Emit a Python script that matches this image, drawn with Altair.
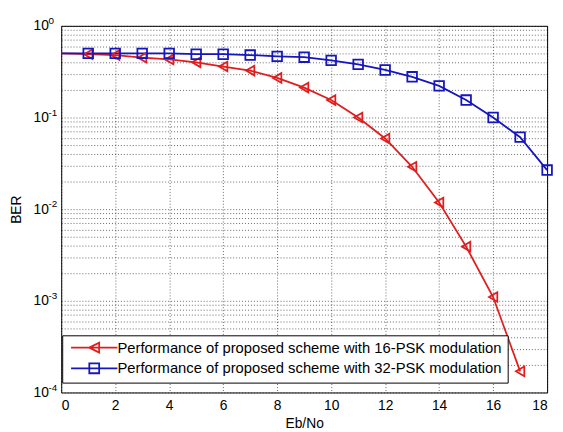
import altair as alt
import pandas as pd

# ---- data ----
ebno_16 = list(range(0, 18))
ber_16psk = [0.50, 0.49, 0.48, 0.45, 0.43, 0.40, 0.36, 0.325, 0.27, 0.212,
             0.155, 0.10, 0.059, 0.029, 0.0118, 0.0039, 0.0011, 0.00017]
ebno_32 = list(range(0, 19))
ber_32psk = [0.50, 0.50, 0.50, 0.50, 0.50, 0.49, 0.49, 0.48, 0.465, 0.455,
             0.42, 0.38, 0.33, 0.278, 0.221, 0.155, 0.10, 0.061, 0.0267]

series_names = ["Performance of proposed scheme with 16-PSK modulation",
                "Performance of proposed scheme with 32-PSK modulation"]
series_colors = ["#E01E1E", "#1616BE"]
x_ticks = [0, 2, 4, 6, 8, 10, 12, 14, 16, 18]
y_decades = [0.0001, 0.001, 0.01, 0.1, 1]
y_exponents = ["-4", "-3", "-2", "-1", "0"]

rows = []
for x, v in zip(ebno_16, ber_16psk):
    rows.append({"EbNo": x, "BER": v, "series": series_names[0]})
for x, v in zip(ebno_32, ber_32psk):
    rows.append({"EbNo": x, "BER": v, "series": series_names[1]})
df = pd.DataFrame(rows)
exp_df = pd.DataFrame({"BER": y_decades, "exp": y_exponents})

y_grid = sorted(set(y_decades + [m * 10.0 ** k for k in range(-4, 0) for m in range(2, 10)]))

label_expr = "".join(f"datum.value == {v} ? '10' : " for v in y_decades) + "''"

FONT = "Liberation Sans"

x_scale = alt.Scale(domain=[0, 18], nice=False)
y_scale = alt.Scale(type="log", domain=[0.0001, 1], nice=False)

x_enc = alt.X("EbNo:Q", scale=x_scale,
              axis=alt.Axis(values=x_ticks, title="Eb/No", grid=True,
                            labelPadding=6, titleY=36, titleBaseline="alphabetic"))
y_enc = alt.Y("BER:Q", scale=y_scale,
              axis=alt.Axis(values=y_grid, labelExpr=label_expr, title="BER",
                            grid=True, labelPadding=13,
                            titleX=-45, titleY=186, titleAngle=-90,
                            titleAlign="center", titleBaseline="middle"))

base = alt.Chart(df)

lines = []
markers = []
marker_shapes = ["triangle-left", "square"]
for name, col, shp in zip(series_names, series_colors, marker_shapes):
    lines.append(
        base.transform_filter(alt.datum.series == name)
        .mark_line(strokeWidth=1.8, clip=True)
        .encode(x=x_enc, y=y_enc, color=alt.value(col))
    )
    markers.append(
        base.transform_filter(alt.datum.series == name)
        .transform_filter(alt.datum.EbNo > 0)
        .mark_point(shape=shp, filled=False, size=95, strokeWidth=1.8, opacity=1)
        .encode(x=x_enc, y=y_enc, color=alt.value(col))
    )

# exponent superscripts of the y tick labels
exponents = (
    alt.Chart(exp_df)
    .mark_text(align="left", baseline="middle", dy=-5, font=FONT, fontSize=10,
               color="black")
    .encode(x=alt.value(-13), y=y_enc, text="exp:N")
)

legend_paths = [
    "M-4.7,0L4.7,0M-1,0L1,-1L1,1Z",
    "M-4.7,0L4.7,0M-1,-1L1,-1L1,1L-1,1Z",
]

legend_props = dict(
    title=None, orient="none", legendX=1, legendY=314,
    direction="vertical",
    strokeColor="black", fillColor="white", padding=5,
    labelFont=FONT, labelFontSize=15, labelColor="black",
    symbolOffset=20, labelOffset=16,
    symbolSize=100, symbolStrokeWidth=1.8,
    rowPadding=2, cornerRadius=0, labelLimit=600,
)

legend_layer = (
    base.transform_filter("false")
    .mark_point(filled=False, size=100, strokeWidth=1.8, opacity=1)
    .encode(
        x=x_enc, y=y_enc,
        color=alt.Color("series:N",
                        scale=alt.Scale(domain=series_names, range=series_colors),
                        legend=alt.Legend(**legend_props)),
        shape=alt.Shape("series:N",
                        scale=alt.Scale(domain=series_names, range=legend_paths),
                        legend=alt.Legend(**legend_props)),
    )
)

chart = (
    alt.layer(*lines, *markers, exponents, legend_layer)
    .properties(
        width=493, height=372,
        autosize=alt.AutoSizeParams(type="none"),
        padding={"left": 54, "top": 15, "right": 8, "bottom": 37},
        background="white",
    )
    .configure_view(stroke="black", strokeWidth=1, fill="white")
    .configure_axis(
        labelFont=FONT, labelFontSize=14, labelColor="black",
        titleFont=FONT, titleFontSize=14, titleColor="black", titleFontWeight="normal",
        gridColor="black", gridDash=[1, 2], gridOpacity=0.6, gridWidth=1,
        domain=False, ticks=False,
    )
)

chart.save("out.html", embed_options={"renderer": "svg", "actions": False})
